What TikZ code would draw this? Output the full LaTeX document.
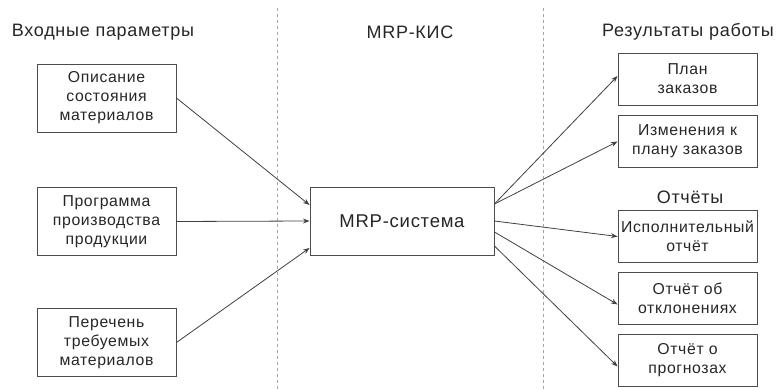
\documentclass[tikz,border=0pt]{standalone}
\usepackage{fontspec}
\setmainfont[LetterSpace=4]{Liberation Sans}
\usetikzlibrary{arrows.meta, positioning, calc}

\begin{document}
\begin{tikzpicture}[>=Stealth, x=1pt, y=1pt,
  box/.style={draw=black!70, line width=0.9pt, align=center, inner sep=1pt,
    minimum width=139pt, minimum height=52pt, text=black!85,
    font=\fontsize{15.8}{19}\selectfont},
  inbox/.style={box, minimum height=68pt},
  arr/.style={->, black!75, line width=0.8pt},
  head/.style={font=\fontsize{18}{21}\selectfont, text=black!85}]
  \useasboundingbox (0,0) rectangle (779,-390);

  % Dividers
  \draw[dashed, black!35, line width=0.8pt] (277,-8) -- (277,-390);
  \draw[dashed, black!35, line width=0.8pt] (543,-8) -- (543,-390);

  % Headings
  \node[head] (inhead) at (103,-32) {Входные параметры};
  \node[head] (kishead) at (410,-32) {MRP-КИС};
  \node[head] (outhead) at (688,-32) {Результаты работы};

  % Inputs
  \node[inbox] (state) at (106.5,-98) {Описание\\состояния\\материалов};
  \node[inbox] (prog) at (106.5,-221.5) {Программа\\производства\\продукции};
  \node[inbox] (need) at (106.5,-342.5) {Перечень\\требуемых\\материалов};

  % System
  \node[box, minimum width=184pt, minimum height=68pt,
    font=\fontsize{18.5}{21}\selectfont] (mrp) at (402,-221) {MRP-система};

  % Outputs
  \node[box] (plan) at (687.5,-79) {План\\заказов};
  \node[box] (change) at (687.5,-141.5) {Изменения к\\плану заказов};
  \node[head] (reports) at (690,-197) {Отчёты};
  \node[box] (exec) at (687.5,-236.5) {Исполнительный\\отчёт};
  \node[box] (dev) at (687.5,-298.5) {Отчёт об\\отклонениях};
  \node[box] (fore) at (687.5,-360.5) {Отчёт о\\прогнозах};

  % Connectors
  \draw[arr] (state.east) -- ($(mrp.west)+(0,16)$);
  \draw[arr] (prog.east) -- (mrp.west);
  \draw[arr] (need.east) -- ($(mrp.west)+(0,-27)$);

  \coordinate (top) at ($(mrp.east)+(0,17)$);
  \draw[arr] (top) -- ($(plan.west)+(0,3)$);
  \draw[arr] (top) -- (change.west);
  \draw[arr] (mrp.east) -- (exec.west);
  \draw[arr] ($(mrp.east)+(0,-11)$) -- ($(dev.west)+(0,-6)$);
  \draw[arr] ($(mrp.east)+(0,-25)$) -- ($(fore.west)+(0,-6)$);
\end{tikzpicture}
\end{document}
